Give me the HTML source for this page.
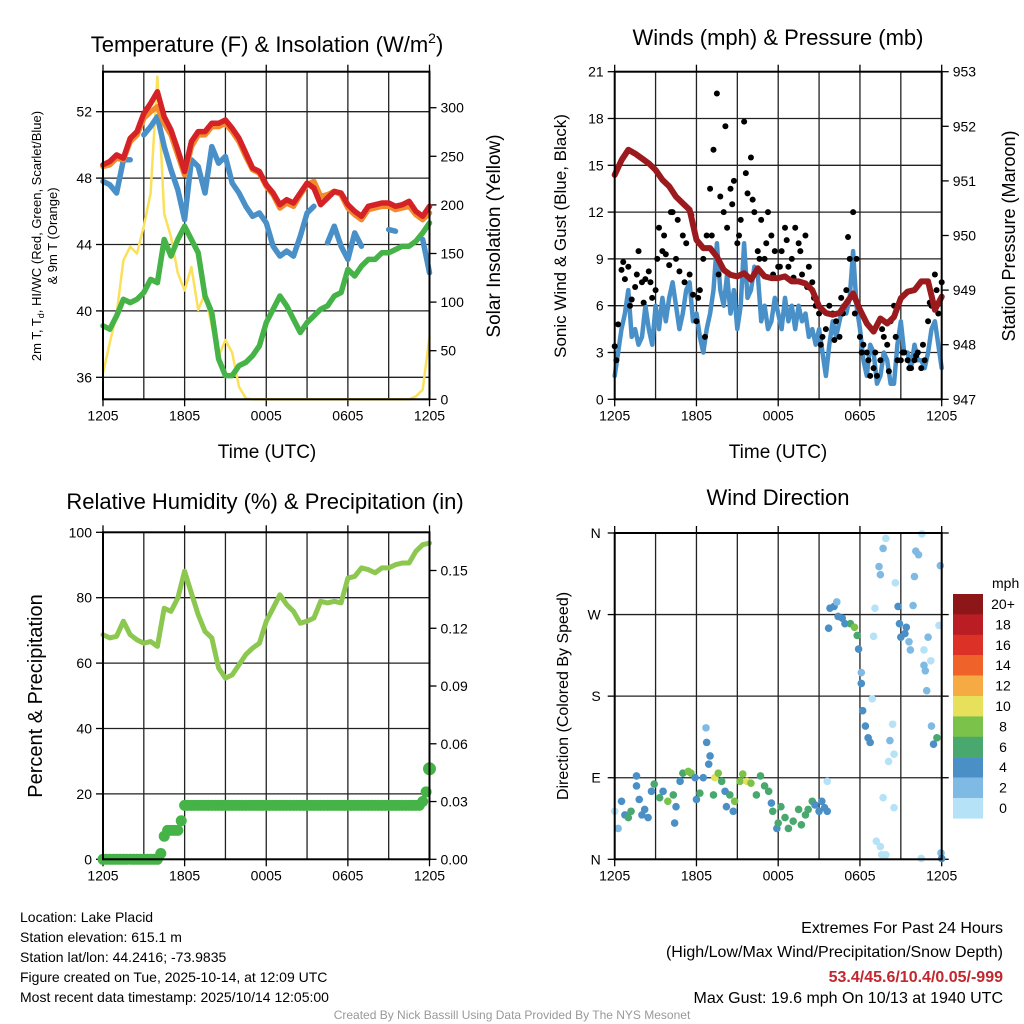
<!DOCTYPE html>
<html><head><meta charset="utf-8"><style>
body{margin:0;background:#fff}
svg{display:block;font-family:"Liberation Sans",Arial,sans-serif}
</style></head><body>
<svg id="s" width="1024" height="1024" viewBox="0 0 1024 1024">
<rect width="1024" height="1024" fill="#fff"/>
<g id="g1"></g>
<g id="g2"></g>
<g id="g3"></g>
<g id="g4"></g>

<text x="267" y="52" font-size="22" text-anchor="middle">Temperature (F) &amp; Insolation (W/m<tspan dy="-9" font-size="14">2</tspan><tspan dy="9">)</tspan></text>
<text x="778" y="45" font-size="22" text-anchor="middle">Winds (mph) &amp; Pressure (mb)</text>
<text x="265" y="509" font-size="22" text-anchor="middle">Relative Humidity (%) &amp; Precipitation (in)</text>
<text x="778" y="505" font-size="22" text-anchor="middle">Wind Direction</text>

<text transform="translate(41,236) rotate(-90)" font-size="13" text-anchor="middle">2m T, T<tspan dy="3" font-size="9">d</tspan><tspan dy="-3">, HI/WC (Red, Green, Scarlet/Blue)</tspan></text>
<text transform="translate(57,236) rotate(-90)" font-size="13" text-anchor="middle">&amp; 9m T (Orange)</text>
<text transform="translate(500,236) rotate(-90)" font-size="19" text-anchor="middle">Solar Insolation (Yellow)</text>
<text transform="translate(566,236) rotate(-90)" font-size="17" text-anchor="middle">Sonic Wind &amp; Gust (Blue, Black)</text>
<text transform="translate(1015,236) rotate(-90)" font-size="18" text-anchor="middle">Station Pressure (Maroon)</text>
<text transform="translate(42,696) rotate(-90)" font-size="20" text-anchor="middle">Percent &amp; Precipitation</text>
<text transform="translate(568,696) rotate(-90)" font-size="16" text-anchor="middle">Direction (Colored By Speed)</text>
<text x="267" y="458" font-size="19" text-anchor="middle">Time (UTC)</text>
<text x="778" y="458" font-size="19" text-anchor="middle">Time (UTC)</text>

<g font-size="14">
<text x="20" y="922">Location: Lake Placid</text>
<text x="20" y="942">Station elevation: 615.1 m</text>
<text x="20" y="962">Station lat/lon: 44.2416; -73.9835</text>
<text x="20" y="982">Figure created on Tue, 2025-10-14, at 12:09 UTC</text>
<text x="20" y="1002">Most recent data timestamp: 2025/10/14 12:05:00</text>
</g>
<g font-size="16" text-anchor="end">
<text x="1003" y="933">Extremes For Past 24 Hours</text>
<text x="1003" y="957">(High/Low/Max Wind/Precipitation/Snow Depth)</text>
<text x="1003" y="982" fill="#c1272d" font-weight="bold">53.4/45.6/10.4/0.05/-999</text>
<text x="1003" y="1003">Max Gust: 19.6 mph On 10/13 at 1940 UTC</text>
</g>
<text x="512" y="1019" font-size="12" fill="#999" text-anchor="middle">Created By Nick Bassill Using Data Provided By The NYS Mesonet</text>
</svg>
<script>
// ---- data (half-hourly, hours since 1205 UTC) ----
const temp2m = [48.8,49.0,49.4,49.2,50.4,50.8,51.9,52.5,53.2,51.7,50.9,49.7,48.4,50.2,50.8,50.8,51.3,51.3,51.5,51.0,50.4,49.5,48.6,48.4,47.6,47.1,46.4,46.7,46.5,47.1,47.7,47.4,46.4,46.8,47.2,47.1,46.4,46.0,45.7,46.3,46.4,46.5,46.5,46.3,46.4,46.6,46.0,45.7,46.3];
const temp9m = [48.7,48.8,49.2,49.1,50.2,50.6,51.6,52.0,52.3,51.3,50.6,49.4,48.2,49.9,50.6,50.6,51.1,51.1,51.3,50.8,50.2,49.3,48.5,48.3,47.5,47.0,46.2,46.5,46.3,47.0,47.6,47.8,46.9,47.0,47.2,47.0,46.2,45.8,45.5,46.1,46.2,46.3,46.3,46.1,46.2,46.3,45.8,45.5,45.9];
const windChill = [47.8,47.6,47.1,49.1,49.1,null,50.6,51.1,51.7,49.9,48.5,47.3,45.5,49.1,48.7,47.1,49.9,48.9,49.3,47.7,47.1,46.3,45.7,45.9,45.3,43.9,43.3,43.6,43.3,44.5,45.9,46.3,null,44.1,45.1,43.9,43.1,44.7,43.9,null,null,null,44.9,44.8,null,null,null,44.3,42.3];
const dewpoint = [39.1,38.9,39.7,40.7,40.5,40.7,41.1,41.9,41.7,44.3,43.3,44.3,45.1,44.3,43.5,40.9,39.9,37.1,36.1,36.1,36.7,36.9,37.3,37.9,39.3,40.1,40.9,40.3,39.5,38.7,39.3,39.7,40.1,40.3,40.9,41.1,42.5,42.1,42.7,43.1,43.1,43.5,43.5,43.7,43.9,43.9,44.2,44.7,45.3];
const solar = [27,58,88,143,157,150,178,212,332,191,167,130,112,136,92,109,75,44,61,48,13,1,0,0,0,0,0,0,0,0,0,0,0,0,0,0,0,0,0,0,0,0,0,0,0,0,3,10,64];
const pressure = [951.11,951.38,951.57,951.5,951.41,951.32,951.2,951.02,950.9,950.71,950.59,950.47,949.92,949.77,949.77,949.61,949.37,949.28,949.25,949.31,949.19,949.4,949.25,949.22,949.22,949.25,949.16,949.16,949.12,949.0,948.7,948.58,948.55,948.58,948.76,948.94,948.64,948.39,948.24,948.48,948.39,948.51,948.85,948.97,949.0,949.16,949.16,948.64,948.88];
// quarter-hourly
const sonicWind = [1.5,3.0,4.5,5.5,7.0,4.0,4.5,3.5,4.0,6.0,4.5,3.5,6.0,4.5,6.5,5.0,6.5,7.5,6.0,4.5,5.5,7.0,7.5,5.0,5.5,4.0,3.0,4.5,5.5,7.0,10.0,7.0,6.0,8.0,5.5,7.0,4.5,6.0,10.0,6.5,7.0,8.5,8.0,5.0,6.0,4.5,5.0,6.5,5.5,4.5,6.5,5.0,6.0,4.5,6.0,5.0,5.5,4.0,4.5,3.5,4.5,3.0,1.5,3.5,5.0,4.0,5.0,6.0,5.5,6.5,9.5,6.0,4.5,2.5,1.5,3.5,3.0,1.0,1.5,3.0,2.5,1.0,1.0,3.5,5.0,3.0,3.0,2.0,3.5,2.5,2.5,2.0,3.0,4.5,5.0,3.5,2.0];
const gusts = [3.4,4.8,8.3,7.7,8.5,6.4,7.2,9.5,7.5,7.7,8.2,6.5,7.0,11.0,9.5,9.3,8.6,12.0,9.0,8.2,10.5,10.0,8.0,6.7,5.0,7.0,9.0,10.5,13.5,16.0,19.6,13.0,12.0,11.0,13.5,14.0,10.0,11.5,17.8,13.2,15.5,12.0,9.5,11.5,9.0,12.0,10.5,9.5,8.5,9.5,11.0,8.5,9.0,11.0,10.0,8.0,10.5,8.5,7.5,6.0,5.5,4.0,4.5,6.0,5.5,5.0,4.0,5.5,7.0,9.0,12.0,9.0,4.0,3.5,3.0,1.5,2.0,1.5,2.5,4.0,3.5,5.0,6.0,2.5,2.5,3.0,2.5,2.0,2.5,3.0,2.0,2.5,5.0,6.0,8.0,5.5,7.5];
const gusts2 = [2.5,8.8,6.0,8.0,6.2,7.5,9.0,10.5,12.0,11.5,7.5,11.8,6.5,4.0,10.5,8.0,17.5,12.5,10.5,14.5,12.8,9.0,10.0,8.0,8.5,10.2,7.8,9.5,7.2,6.5,3.5,5.5,3.8,6.5,10.4,5.5,3.0,2.5,3.0,4.5,1.8,4.0,3.0,2.0,2.8,3.5,6.2,7.0];
const humidity = [68.7,67.7,68.2,72.8,68.7,67.1,66.1,66.6,65.1,76.8,75.8,79.9,88.1,81.4,74.8,69.7,67.7,58.5,55.4,56.4,59.5,62.6,64.6,66.1,72.8,76.8,80.9,77.9,75.8,72.2,72.8,73.8,78.9,78.4,78.9,78.4,86.0,86.5,89.1,88.6,87.6,89.1,89.1,90.1,90.6,90.6,94.2,96.2,96.7];
const precip = [0,0,0,0,0,0,0,0,0,0,0,0,0,0,0,0,0,0.003,0.012,0.015,0.015,0.015,0.015,0.02,0.028,0.028,0.028,0.028,0.028,0.028,0.028,0.028,0.028,0.028,0.028,0.028,0.028,0.028,0.028,0.028,0.028,0.028,0.028,0.028,0.028,0.028,0.028,0.028,0.028,0.028,0.028,0.028,0.028,0.028,0.028,0.028,0.028,0.028,0.028,0.028,0.028,0.028,0.028,0.028,0.028,0.028,0.028,0.028,0.028,0.028,0.028,0.028,0.028,0.028,0.028,0.028,0.028,0.028,0.028,0.028,0.028,0.028,0.028,0.028,0.028,0.028,0.028,0.028,0.028,0.028,0.028,0.028,0.028,0.028,0.03,0.035,0.047];
// wind direction scatter: hours, degrees, speed mph
const dirHours = [0,0.25,0.5,0.75,1.0,1.2,1.6,1.6,1.8,2.0,2.2,2.45,2.7,2.9,3.3,3.55,3.9,4.3,4.4,4.5,4.8,5.0,5.4,5.6,5.9,6.0,6.25,6.5,6.7,6.75,6.9,7.0,7.25,7.35,7.6,7.85,8.1,8.2,8.45,8.7,8.8,9.2,9.4,9.7,10.0,10.4,10.7,11.0,11.3,11.5,11.6,11.9,12.0,12.2,12.5,12.75,13.1,13.5,13.7,14.0,14.2,14.5,14.7,15.0,15.2,15.4,15.6,15.6,15.7,15.8,16.1,16.3,16.4,16.7,16.9,17.3,17.6,17.8,17.9,18.1,18.1,18.2,18.4,18.6,18.75,18.9,19.1,19.0,19.2,19.5,19.6,19.4,19.5,19.7,19.9,19.9,19.7,20.1,20.2,20.4,20.5,20.5,20.6,20.8,20.9,21.0,21.3,21.4,21.6,21.7,21.9,22.0,22.1,22.3,22.55,22.5,22.7,22.7,22.8,22.9,23.0,23.2,23.25,23.4,23.65,23.8,23.9,23.95,24.0];
const dirDegrees = [53,34,64,49,46,53,92,81,66,49,55,46,75,83,68,75,64,71,40,58,86,95,97,95,90,66,73,90,145,129,105,114,71,90,95,86,75,58,71,53,64,86,94,86,84,71,92,81,75,62,53,34,40,58,46,34,42,55,38,49,55,64,60,53,64,57,53,86,255,277,279,284,268,266,260,260,256,247,232,206,194,164,147,134,129,177,277,246,20,14,5,323,314,343,354,5,68,108,131,149,116,57,305,279,260,245,249,256,240,231,280,312,340,336,359,1,231,214,208,186,245,219,147,127,134,258,324,7,1];
const dirSpeeds = [1,3,5,5,7,7,5,5,5,5,5,5,5,7,7,5,9,7,5,5,5,7,9,9,5,5,7,5,3,5,5,5,7,11,9,7,5,5,7,5,9,9,9,11,9,7,7,7,7,5,7,5,7,7,7,7,7,7,7,7,7,7,5,5,5,5,5,1,5,5,5,3,5,5,5,7,9,7,5,3,5,5,5,5,5,1,1,1,1,1,1,3,3,3,1,1,1,1,3,1,1,1,1,5,5,5,5,5,3,3,3,3,3,3,1,1,1,3,3,3,3,1,3,5,7,1,3,3,5];
const speedBins = ['0','2','4','6','8','10','12','14','16','18','20+'];
const speedColors = ['#b5e2f7','#7fbae4','#4a8fc6','#48a86e','#7bc24b','#e6e05a','#f6aa44','#ef6229','#dc3127','#ba1d24','#8d1619'];

const NS='http://www.w3.org/2000/svg';
function el(tag, attrs, parent){const e=document.createElementNS(NS,tag);for(const k in attrs)e.setAttribute(k,attrs[k]);parent.appendChild(e);return e;}
function scale(d0,d1,r0,r1){return v=>r0+(v-d0)/(d1-d0)*(r1-r0);}

function frame(g, L, R, T, B, xs, hGrid, yL, leftTicks, leftFmt, yR, rightTicks, rightFmt){
  for(let h=3;h<24;h+=3){const l=el('line',{x1:xs(h),x2:xs(h),y1:T,y2:B,stroke:'#222','stroke-width':1.3},g);
    
    }
  hGrid.forEach(y=>{const l=el('line',{x1:L,x2:R,y1:y,y2:y,stroke:'#222','stroke-width':1.3},g);
    
    });
  leftTicks.forEach(v=>{const y=yL(v);
    el('line',{x1:L-7,x2:L,y1:y,y2:y,stroke:'#000','stroke-width':1.3},g);
    const t=el('text',{x:L-11,y:y+5,'font-size':14,'text-anchor':'end'},g);t.textContent=leftFmt(v);
    
    });
  if(yR) rightTicks.forEach(v=>{const y=yR(v);
    el('line',{x1:R,x2:R+7,y1:y,y2:y,stroke:'#000','stroke-width':1.3},g);
    const t=el('text',{x:R+11,y:y+5,'font-size':14},g);t.textContent=rightFmt(v);
    
    });
  const xl=['1205','1805','0005','0605','1205'];
  xl.forEach((s,i)=>{const x=xs(i*6);
    el('line',{x1:x,x2:x,y1:B,y2:B+7,stroke:'#000','stroke-width':1.3},g);
    el('line',{x1:x,x2:x,y1:T-7,y2:T,stroke:'#000','stroke-width':1.3},g);
    const t=el('text',{x:x,y:B+21,'font-size':14,'text-anchor':'middle'},g);t.textContent=s;
    
    });
}
function border(g,L,R,T,B){const r=el('rect',{x:L,y:T,width:R-L,height:B-T,fill:'none',stroke:'#000','stroke-width':2},g);
  
  }
function line(g, arr, step, xs, ys, color, w, name){
  let d='',pen=false;
  arr.forEach((v,i)=>{if(v===null){pen=false;return;}d+=(pen?'L':'M')+xs(i*step).toFixed(1)+' '+ys(v).toFixed(1);pen=true;});
  const p=el('path',{d:d,fill:'none',stroke:color,'stroke-width':w,'stroke-linejoin':'round','stroke-linecap':'round'},g);
  
  
}

// Panel 1
(function(){
  const g=document.getElementById('g1');const L=103,R=429.5,T=71.7,B=399.3;
  const xs=scale(0,24,L,R), yT=scale(36,52,377.3,111.7), yS=scale(0,300,399.3,107.7);
  frame(g,L,R,T,B,xs,[36,40,44,48,52].map(yT),yT,[36,40,44,48,52],v=>v,yS,[0,50,100,150,200,250,300],v=>v);
  line(g,solar,0.5,xs,yS,'#fbe05a',2.5,'solar-insolation-line');
  line(g,dewpoint,0.5,xs,yT,'#45b347',5.5,'dewpoint-line');
  line(g,windChill,0.5,xs,yT,'#4a90c8',5.5,'wind-chill-line');
  line(g,temp9m,0.5,xs,yT,'#f38a2c',5.5,'temp-9m-line');
  line(g,temp2m,0.5,xs,yT,'#d42226',5.5,'temp-2m-line');
  border(g,L,R,T,B);
})();
// Panel 2
(function(){
  const g=document.getElementById('g2');const L=614.7,R=941.7,T=71.7,B=399.3;
  const xs=scale(0,24,L,R), yW=scale(0,21,B,T), yP=scale(947,953,B,T);
  frame(g,L,R,T,B,xs,[3,6,9,12,15,18].map(yW),yW,[0,3,6,9,12,15,18,21],v=>v,yP,[947,948,949,950,951,952,953],v=>v);
  line(g,sonicWind,0.25,xs,yW,'#4a90c8',4.5,'sonic-wind-line');
  gusts.forEach((v,i)=>{const c=el('circle',{cx:xs(i*0.25),cy:yW(v),r:3,fill:'#000'},g);
    
    });
  gusts2.forEach((v,i)=>{const c=el('circle',{cx:xs(i*0.5+0.125),cy:yW(v),r:3,fill:'#000'},g);
    
    });
  line(g,pressure,0.5,xs,yP,'#9b1a1d',6,'pressure-line');
  border(g,L,R,T,B);
})();
// Panel 3
(function(){
  const g=document.getElementById('g3');const L=103,R=429.5,T=532.3,B=859.3;
  const xs=scale(0,24,L,R), yH=scale(0,100,B,T), yPr=scale(0,0.15,B,570.5);
  frame(g,L,R,T,B,xs,[20,40,60,80].map(yH),yH,[0,20,40,60,80,100],v=>v,yPr,[0,0.03,0.06,0.09,0.12,0.15],v=>v.toFixed(2));
  line(g,humidity,0.5,xs,yH,'#8cc850',5,'humidity-line');
  precip.forEach((v,i)=>{const c=el('circle',{cx:xs(i*0.25),cy:yPr(v),r:i===96?6.5:5.5,fill:'#45b347'},g);
    
    });
  border(g,L,R,T,B);
})();
// Panel 4
(function(){
  const g=document.getElementById('g4');const L=614.7,R=941.7,T=533,B=859.3;
  const xs=scale(0,24,L,R), yD=scale(0,360,B,T);
  const labels=['N','E','S','W','N'];
  frame(g,L,R,T,B,xs,[90,180,270].map(yD),yD,[],v=>v,null,[],null);
  labels.forEach((s,i)=>{const y=yD(i*90);
    el('line',{x1:L-7,x2:L,y1:y,y2:y,stroke:'#000','stroke-width':1.3},g);
    el('line',{x1:R,x2:R+7,y1:y,y2:y,stroke:'#000','stroke-width':1.3},g);
    const t=el('text',{x:L-14,y:y+5,'font-size':14,'text-anchor':'end'},g);t.textContent=s;
    
    });
  dirHours.forEach((h,i)=>{const b=Math.min(10,Math.floor(dirSpeeds[i]/2));
    const c=el('circle',{cx:xs(h),cy:yD(dirDegrees[i]),r:3.8,fill:speedColors[b]},g);
    
    });
  border(g,L,R,T,B);
  const mt=el('text',{x:992,y:588,'font-size':14},g);mt.textContent='mph';
  
  
  for(let k=0;k<11;k++){const idx=10-k;const y=594+k*20.4;
    const r=el('rect',{x:953,y:y,width:30,height:20.6,fill:speedColors[idx]},g);
    
    
    const t=el('text',{x:1003,y:y+15,'font-size':14,'text-anchor':'middle'},g);t.textContent=speedBins[idx];
    
    }
})();
</script>
</body></html>
